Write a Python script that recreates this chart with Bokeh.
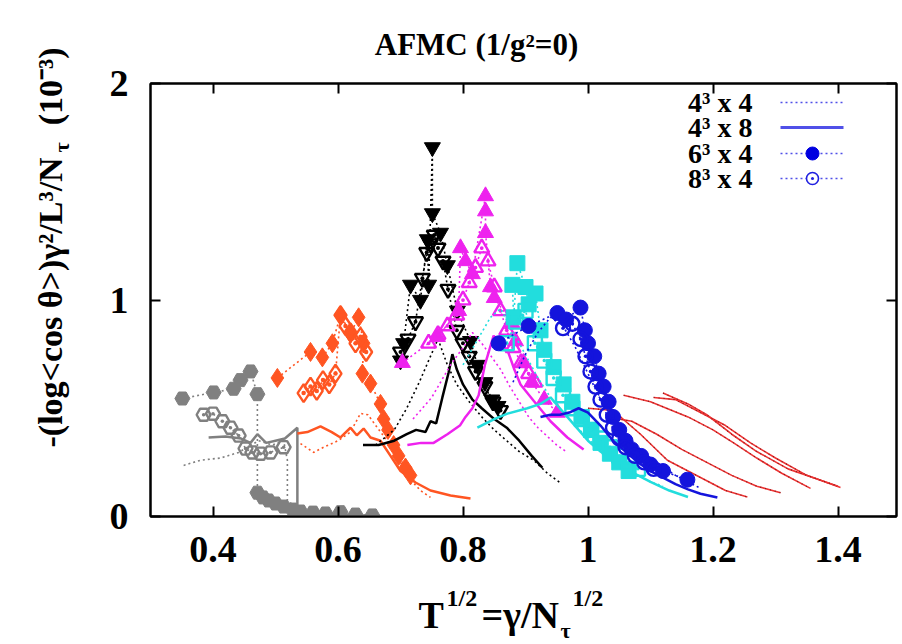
import math
from bokeh.plotting import figure
from bokeh.models import Range1d, FixedTicker, LinearAxis, Label
from bokeh.layouts import row, column
from bokeh.embed import file_html
from bokeh.resources import INLINE

# ---------------- data ----------------
# gray group
gray_44_x = [0.353, 0.38, 0.412, 0.441, 0.473, 0.495, 0.513, 0.519, 0.519, 0.54, 0.57, 0.60]
gray_44_y = [0.236, 0.26, 0.27, 0.296, 0.35, 0.33, 0.35, 0.26, 0.074, 0.028, 0.015, 0.01]
gray_48_x = [0.393, 0.42, 0.445, 0.46, 0.471, 0.485, 0.50, 0.515, 0.535, 0.535, 0.56, 0.60, 0.65]
gray_48_y = [0.365, 0.37, 0.36, 0.34, 0.38, 0.34, 0.35, 0.36, 0.41, 0.03, 0.015, 0.008, 0.004]
gray_64_x = [0.351, 0.401, 0.433, 0.444, 0.46, 0.471, 0.471, 0.48, 0.489, 0.50, 0.513, 0.527, 0.54, 0.56, 0.58, 0.604, 0.628, 0.655]
gray_64_y = [0.545, 0.573, 0.59, 0.63, 0.67, 0.565, 0.11, 0.088, 0.074, 0.06, 0.046, 0.032, 0.023, 0.018, 0.014, 0.02, 0.009, 0.005]
gray_84_x = [0.385, 0.40, 0.415, 0.428, 0.441, 0.452, 0.463, 0.476, 0.492, 0.513]
gray_84_y = [0.47, 0.475, 0.44, 0.41, 0.374, 0.314, 0.296, 0.29, 0.296, 0.32]

# orange group
orange_44_x = [0.54, 0.561, 0.577, 0.60, 0.62, 0.636, 0.648, 0.663, 0.684, 0.70, 0.716, 0.732, 0.748]
orange_44_y = [0.337, 0.296, 0.32, 0.35, 0.39, 0.476, 0.47, 0.41, 0.33, 0.25, 0.17, 0.12, 0.088]
orange_48_x = [0.535, 0.551, 0.572, 0.59, 0.604, 0.62, 0.63, 0.641, 0.652, 0.668, 0.684, 0.70, 0.724, 0.748, 0.78, 0.812]
orange_48_y = [0.383, 0.39, 0.416, 0.39, 0.365, 0.41, 0.375, 0.406, 0.365, 0.35, 0.28, 0.21, 0.157, 0.12, 0.097, 0.083]
orange_64_x = [0.503, 0.556, 0.575, 0.591, 0.604, 0.62, 0.633, 0.641, 0.639, 0.652, 0.668, 0.673, 0.68, 0.689, 0.697, 0.708, 0.716]
orange_64_y = [0.64, 0.76, 0.735, 0.80, 0.93, 0.845, 0.92, 0.80, 0.66, 0.614, 0.52, 0.45, 0.40, 0.33, 0.28, 0.226, 0.19]
orange_84_x = [0.545, 0.556, 0.566, 0.576, 0.586, 0.596, 0.604, 0.612, 0.62, 0.628, 0.636, 0.645]
orange_84_y = [0.57, 0.60, 0.58, 0.63, 0.61, 0.66, 0.93, 0.88, 0.85, 0.80, 0.83, 0.76]

# black group
black_44_x = [0.66, 0.69, 0.71, 0.73, 0.745, 0.76, 0.775, 0.79, 0.81, 0.83, 0.85, 0.87, 0.89, 0.913, 0.935, 0.956]
black_44_y = [0.33, 0.40, 0.50, 0.62, 0.72, 0.82, 0.70, 0.61, 0.53, 0.46, 0.40, 0.35, 0.30, 0.26, 0.20, 0.155]
black_48_x = [0.64, 0.665, 0.69, 0.71, 0.725, 0.74, 0.748, 0.757, 0.767, 0.777, 0.783, 0.79, 0.80, 0.815, 0.83, 0.85, 0.87, 0.89, 0.91, 0.927]
black_48_y = [0.33, 0.33, 0.35, 0.38, 0.40, 0.39, 0.44, 0.43, 0.55, 0.665, 0.75, 0.68, 0.61, 0.54, 0.50, 0.45, 0.41, 0.35, 0.28, 0.225]
black_64_x = [0.70, 0.705, 0.716, 0.732, 0.743, 0.745, 0.751, 0.751, 0.764, 0.775, 0.791, 0.812, 0.823, 0.835, 0.846, 0.856]
black_64_y = [0.72, 0.80, 1.07, 1.00, 1.28, 1.07, 1.705, 1.40, 1.31, 1.16, 0.95, 0.81, 0.70, 0.62, 0.54, 0.51]
black_84_x = [0.70, 0.712, 0.724, 0.735, 0.742, 0.748, 0.754, 0.76, 0.768, 0.776, 0.79, 0.80, 0.81, 0.82, 0.835, 0.848, 0.86]
black_84_y = [0.76, 0.82, 0.90, 1.10, 1.22, 1.26, 1.30, 1.24, 1.18, 1.05, 0.86, 0.80, 0.74, 0.67, 0.60, 0.53, 0.49]

# magenta group
magenta_44_x = [0.72, 0.75, 0.78, 0.80, 0.815, 0.83, 0.845, 0.86, 0.875, 0.89, 0.905, 0.92, 0.935, 0.95, 0.965]
magenta_44_y = [0.45, 0.55, 0.70, 0.78, 0.85, 0.80, 0.74, 0.68, 0.60, 0.53, 0.46, 0.41, 0.37, 0.33, 0.30]
magenta_48_x = [0.711, 0.733, 0.753, 0.775, 0.795, 0.804, 0.815, 0.825, 0.835, 0.849, 0.86, 0.871, 0.882, 0.892, 0.913, 0.94, 0.967, 0.993]
magenta_48_y = [0.33, 0.34, 0.34, 0.38, 0.42, 0.46, 0.50, 0.56, 0.70, 0.835, 0.80, 0.77, 0.68, 0.61, 0.535, 0.44, 0.365, 0.31]
magenta_64_x = [0.703, 0.759, 0.793, 0.796, 0.804, 0.815, 0.836, 0.836, 0.836, 0.844, 0.85, 0.879, 0.884, 0.897, 0.91, 0.93, 0.951]
magenta_64_y = [0.71, 0.83, 0.95, 1.24, 1.18, 1.12, 1.48, 1.41, 1.31, 1.06, 1.01, 0.89, 0.81, 0.71, 0.62, 0.54, 0.48]
magenta_84_x = [0.745, 0.76, 0.775, 0.79, 0.80, 0.81, 0.82, 0.83, 0.84, 0.85, 0.86, 0.87, 0.88, 0.893, 0.905, 0.915]
magenta_84_y = [0.80, 0.84, 0.88, 0.93, 1.00, 1.08, 1.15, 1.24, 1.18, 1.06, 0.95, 0.86, 0.78, 0.71, 0.66, 0.62]

# cyan group
cyan_44_x = [0.80, 0.82, 0.844, 0.86, 0.875, 0.89, 0.905, 0.92, 0.94, 0.96, 0.98, 1.0, 1.02, 1.04, 1.06, 1.08, 1.10, 1.12]
cyan_44_y = [0.70, 0.80, 0.92, 0.96, 0.88, 0.80, 0.72, 0.64, 0.55, 0.48, 0.42, 0.36, 0.31, 0.26, 0.22, 0.19, 0.16, 0.14]
cyan_48_x = [0.823, 0.85, 0.871, 0.903, 0.924, 0.94, 0.955, 0.97, 0.985, 1.0, 1.02, 1.04, 1.06, 1.08, 1.10, 1.13, 1.16]
cyan_48_y = [0.41, 0.45, 0.475, 0.50, 0.52, 0.55, 0.50, 0.45, 0.40, 0.35, 0.30, 0.26, 0.22, 0.19, 0.16, 0.12, 0.09]
cyan_64_x = [0.879, 0.881, 0.887, 0.90, 0.905, 0.916, 0.924, 0.93, 0.945, 0.961, 0.975, 0.99, 1.005, 1.02, 1.035, 1.05, 1.065]
cyan_64_y = [1.07, 0.92, 1.17, 1.06, 0.98, 1.03, 0.86, 0.77, 0.69, 0.61, 0.53, 0.46, 0.40, 0.34, 0.29, 0.25, 0.21]
cyan_84_x = [0.87, 0.885, 0.90, 0.915, 0.93, 0.945, 0.96, 0.975, 0.99, 1.005, 1.02, 1.035, 1.05, 1.065, 1.08]
cyan_84_y = [0.80, 0.90, 0.95, 0.80, 0.72, 0.64, 0.56, 0.50, 0.45, 0.40, 0.36, 0.32, 0.28, 0.25, 0.22]

# blue group
blue_44_x = [0.88, 0.90, 0.92, 0.94, 0.96, 0.98, 1.0, 1.02, 1.04, 1.06, 1.08, 1.10, 1.12, 1.14, 1.16, 1.18]
blue_44_y = [0.62, 0.75, 0.85, 0.92, 0.88, 0.78, 0.66, 0.54, 0.45, 0.38, 0.32, 0.27, 0.23, 0.19, 0.16, 0.13]
blue_48_x = [0.924, 0.94, 0.955, 0.97, 0.985, 1.0, 1.02, 1.04, 1.06, 1.08, 1.10, 1.12, 1.14, 1.16, 1.18, 1.207]
blue_48_y = [0.46, 0.47, 0.47, 0.48, 0.50, 0.48, 0.42, 0.35, 0.30, 0.25, 0.21, 0.18, 0.15, 0.125, 0.105, 0.088]
blue_64_x = [0.857, 0.905, 0.951, 0.965, 0.988, 0.995, 1.0, 1.01, 1.017, 1.025, 1.033, 1.04, 1.05, 1.06, 1.07, 1.085, 1.10, 1.12, 1.159]
blue_64_y = [0.80, 0.88, 0.94, 0.91, 0.965, 0.86, 0.80, 0.74, 0.66, 0.60, 0.53, 0.46, 0.40, 0.35, 0.31, 0.28, 0.24, 0.21, 0.17]
blue_84_x = [0.96, 0.975, 0.988, 0.996, 1.004, 1.012, 1.02, 1.03, 1.04, 1.05, 1.06, 1.075, 1.09, 1.105]
blue_84_y = [0.87, 0.89, 0.82, 0.74, 0.67, 0.60, 0.54, 0.47, 0.41, 0.36, 0.32, 0.28, 0.25, 0.22]

# red thin curves
red1_x = [1.00, 1.04, 1.084, 1.127, 1.18, 1.22, 1.255]
red1_y = [0.50, 0.49, 0.38, 0.26, 0.18, 0.12, 0.09]
red2_x = [1.03, 1.07, 1.11, 1.15, 1.19, 1.23, 1.27, 1.308]
red2_y = [0.46, 0.44, 0.38, 0.31, 0.25, 0.19, 0.14, 0.11]
red3_x = [1.057, 1.10, 1.16, 1.20, 1.233, 1.27, 1.31, 1.356]
red3_y = [0.56, 0.53, 0.46, 0.40, 0.34, 0.27, 0.20, 0.13]
red4_x = [1.105, 1.14, 1.18, 1.22, 1.26, 1.30, 1.35, 1.404]
red4_y = [0.55, 0.54, 0.48, 0.42, 0.34, 0.27, 0.19, 0.134]
red5_x = [1.12, 1.16, 1.19, 1.23, 1.27, 1.32, 1.37, 1.40]
red5_y = [0.57, 0.52, 0.47, 0.38, 0.30, 0.22, 0.17, 0.14]

x_ticks = [0.4, 0.6, 0.8, 1.0, 1.2, 1.4]
x_tick_labels = ["0.4", "0.6", "0.8", "1", "1.2", "1.4"]
y_ticks = [0, 1, 2]
legend_labels = ["4³ x 4", "4³ x 8", "6³ x 4", "8³ x 4"]

# ---------------- page layout ----------------
FONT = "Liberation Serif"
YL_W = 80                     # left strip holding the rotated y title
TITLE_H = 62                  # strip holding the title
MAIN_W, MAIN_H = 820, 520     # main figure
XL_H = 60                     # strip holding the x title
FW, FH = 746, 433
FL, FT = 150, 83              # frame left / top on the page
FB = FT + FH
BL = FL - YL_W                # left border of main figure
BR = MAIN_W - BL - FW         # right border of main figure
X0, X1 = 0.3, 0.3 + FW / 625.0
PXX, PXY = 625.0, FH / 2.0

def dx(px):
    return X0 + (px - FL) / PXX

def dy(py):
    return (FB - py) / PXY

p = figure(width=MAIN_W, height=MAIN_H, min_border_left=BL, min_border_right=BR,
           min_border_top=FT - TITLE_H, min_border_bottom=MAIN_H - (FT - TITLE_H) - FH,
           output_backend="svg", toolbar_location=None,
           x_range=Range1d(X0, X1), y_range=Range1d(0, 2))
p.grid.visible = False
p.background_fill_color = "white"
p.border_fill_color = "white"
p.outline_line_color = "black"
p.outline_line_width = 2

def style_axis(ax, size="38px"):
    ax.axis_line_width = 2
    ax.major_tick_in = 10
    ax.major_tick_out = 0
    ax.major_tick_line_width = 2
    ax.minor_tick_line_color = None
    ax.major_label_text_font = FONT
    ax.major_label_text_font_style = "bold"
    ax.major_label_text_color = "black"
    ax.major_label_text_font_size = size

p.xaxis.ticker = FixedTicker(ticks=x_ticks)
p.xaxis.major_label_overrides = {t: s for t, s in zip(x_ticks, x_tick_labels)}
p.yaxis.ticker = FixedTicker(ticks=y_ticks)
style_axis(p.xaxis[0])
style_axis(p.yaxis[0])
p.xaxis.major_label_standoff = 20
p.yaxis.major_label_standoff = 22

top = LinearAxis(ticker=FixedTicker(ticks=x_ticks))
style_axis(top, "1px")
top.major_label_overrides = {t: "" for t in x_ticks}
top.major_label_standoff = 0
p.add_layout(top, "above")
right = LinearAxis(ticker=FixedTicker(ticks=y_ticks))
style_axis(right, "1px")
right.major_label_overrides = {t: "" for t in y_ticks}
right.major_label_standoff = 0
p.add_layout(right, "right")

GRAY, ORANGE, BLACK, MAGENTA, CYAN, BLUE, RED = ("#808080", "#ff5522", "#000000",
                                                "#ee22ee", "#22dddd", "#1414dc", "#ee3333")
DOT = "2 3"

# red curves (behind)
for rx, ry in [(red1_x, red1_y), (red2_x, red2_y), (red3_x, red3_y), (red4_x, red4_y), (red5_x, red5_y)]:
    p.line(rx, ry, line_color=RED, line_width=1.6)
    p.line(rx, ry, line_color="#661111", line_width=1.2, line_dash="1 4", line_alpha=0.8)

groups = [
    (GRAY, "hex", "hex_dot", 15, gray_44_x, gray_44_y, gray_48_x, gray_48_y, gray_64_x, gray_64_y, gray_84_x, gray_84_y),
    (ORANGE, "diamond", "diamond_dot", 19, orange_44_x, orange_44_y, orange_48_x, orange_48_y, orange_64_x, orange_64_y, orange_84_x, orange_84_y),
    (BLACK, "inverted_triangle", None, 16, black_44_x, black_44_y, black_48_x, black_48_y, black_64_x, black_64_y, black_84_x, black_84_y),
    (MAGENTA, "triangle", "triangle_dot", 16, magenta_44_x, magenta_44_y, magenta_48_x, magenta_48_y, magenta_64_x, magenta_64_y, magenta_84_x, magenta_84_y),
    (CYAN, "square", "square_dot", 15, cyan_44_x, cyan_44_y, cyan_48_x, cyan_48_y, cyan_64_x, cyan_64_y, cyan_84_x, cyan_84_y),
    (BLUE, "circle", "circle_dot", 15, blue_44_x, blue_44_y, blue_48_x, blue_48_y, blue_64_x, blue_64_y, blue_84_x, blue_84_y),
]

for col, mk, omk, sz, x44, y44, x48, y48, x64, y64, x84, y84 in groups:
    p.line(x44, y44, line_color=col, line_width=1.6, line_dash=DOT)
    p.line(x48, y48, line_color=col, line_width=2.5)
    p.line(x64, y64, line_color=col, line_width=1.6, line_dash=DOT)
    p.scatter(x64, y64, marker=mk, size=sz, fill_color=col, line_color=col)
    p.line(x84, y84, line_color=col, line_width=1.6, line_dash=DOT)
    if omk is None:
        p.scatter(x84, y84, marker=mk, size=sz - 1, fill_color=None, line_color=col, line_width=2.4)
        p.scatter(x84, y84, marker="dot", size=sz, line_color=col, fill_color=col)
    else:
        p.scatter(x84, y84, marker=omk, size=sz - 1, fill_color=None, line_color=col, line_width=2.4)

# ---------------- legend (text left, sample right) ----------------
rows_py = [102, 127, 153, 178]
LEG_BLUE = "#5050e8"
for i, (txt, ry) in enumerate(zip(legend_labels, rows_py)):
    p.add_layout(Label(x=dx(752), y=dy(ry), text=txt, text_align="right", text_baseline="middle",
                       text_font=FONT, text_font_style="bold", text_font_size="28px",
                       text_color="black"))
    xs = [dx(780), dx(843)]
    ys = [dy(ry), dy(ry)]
    if i == 1:
        p.line(xs, ys, line_color=LEG_BLUE, line_width=3)
    else:
        p.line(xs, ys, line_color=LEG_BLUE, line_width=1.6, line_dash=DOT)
    if i == 2:
        p.scatter([dx(812)], [dy(ry)], marker="circle", size=13, fill_color="#0000e0", line_color="#0000e0")
    if i == 3:
        p.scatter([dx(812)], [dy(ry)], marker="circle_dot", size=12, fill_color="white", line_color="#2020e0", line_width=1.6)

# ---------------- text strips (title, x title, y title) ----------------
def strip(w, h, bl=0, br=0):
    f = figure(width=w, height=h, x_range=Range1d(0, w - bl - br), y_range=Range1d(0, h),
               min_border=0, min_border_left=bl, min_border_right=br, min_border_top=0, min_border_bottom=0,
               x_axis_type=None, y_axis_type=None, output_backend="svg", toolbar_location=None)
    f.outline_line_color = None
    f.background_fill_color = "white"
    f.border_fill_color = "white"
    return f

def put(f, ox, oy, h, X, Y, t, size, align="left", angle=0.0):
    # (X, Y): page position of the text's vertical middle
    f.add_layout(Label(x=X - ox, y=h - (Y - oy), text=t, text_align=align, text_baseline="middle",
                       angle=angle, text_font=FONT, text_font_style="bold",
                       text_font_size=size, text_color="black"))

title_f = strip(MAIN_W, TITLE_H, BL, BR)
put(title_f, FL, 0, TITLE_H, 476, 44, "AFMC (1/g²=0)", "31px", align="center")

xl_f = strip(MAIN_W, XL_H, BL, BR)
XO = TITLE_H + MAIN_H
put(xl_f, FL, XO, XL_H, 418, 614, "T", "38px")
put(xl_f, FL, XO, XL_H, 446, 597, "1/2", "24px")
put(xl_f, FL, XO, XL_H, 481, 614, "=γ/N", "38px")
put(xl_f, FL, XO, XL_H, 560, 630, "τ", "22px")
put(xl_f, FL, XO, XL_H, 572, 597, "1/2", "24px")

TOT_H = TITLE_H + MAIN_H + XL_H
yl_f = strip(YL_W, TOT_H)
A = math.pi / 2
put(yl_f, 0, 0, TOT_H, 50, 447, "-(log<cos θ>)γ²/L³/N", "34px", angle=A)
put(yl_f, 0, 0, TOT_H, 61, 152, "τ", "22px", angle=A)
put(yl_f, 0, 0, TOT_H, 50, 47, "(10⁻³)", "34px", align="right", angle=A)

layout = row(yl_f, column(title_f, p, xl_f))
open("out.html", "w").write(file_html(layout, INLINE))
